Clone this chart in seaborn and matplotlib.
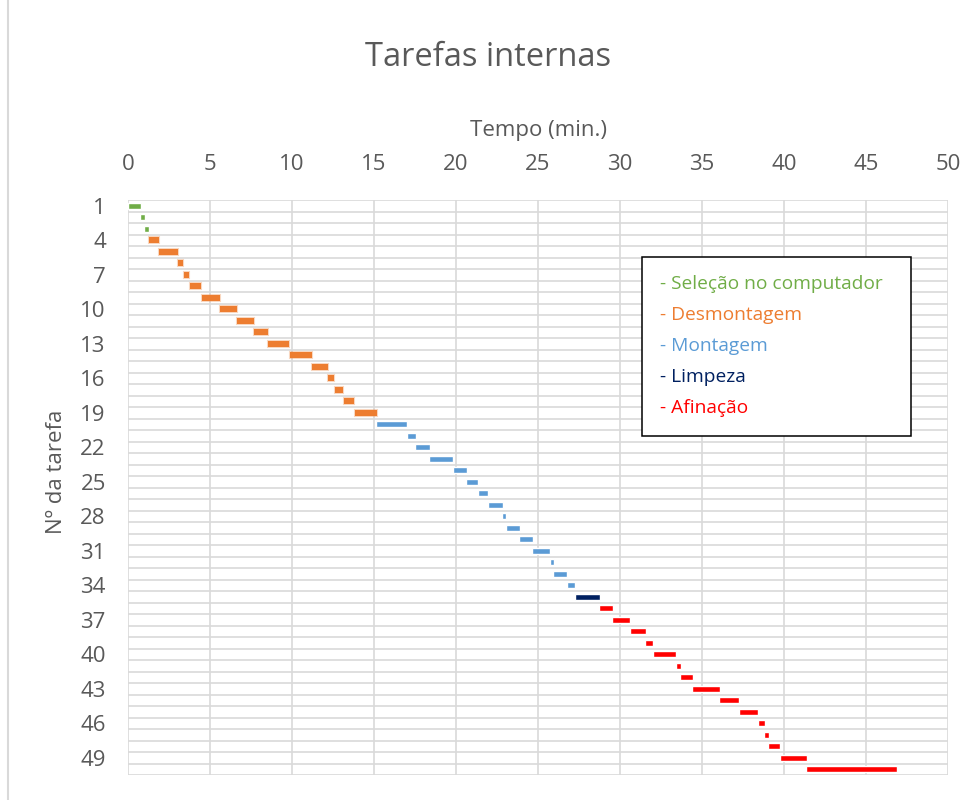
import matplotlib
matplotlib.use("Agg")
import numpy as np
import pandas as pd
import seaborn as sns
from matplotlib import pyplot as plt
from matplotlib.lines import Line2D

# task data (minutes)
tasks = list(range(1, 51))
starts = [0.0, 0.73, 0.97, 1.28, 1.9, 3.04, 3.39, 3.77, 4.5, 5.64,
          6.65, 7.69, 8.52, 9.86, 11.2, 12.19, 12.6, 13.15, 13.82, 15.1,
          17.04, 17.53, 18.38, 19.84, 20.63, 21.36, 21.97, 22.82, 23.07, 23.86,
          24.65, 25.75, 25.93, 26.78, 27.27, 28.73, 29.52, 30.61, 31.53, 32.01,
          33.41, 33.66, 34.39, 36.03, 37.25, 38.4, 38.77, 39.01, 39.74, 41.33]
ends = [0.8, 1.03, 1.28, 1.89, 3.02, 3.37, 3.73, 4.48, 5.62, 6.63,
        7.67, 8.52, 9.84, 11.2, 12.17, 12.58, 13.1, 13.8, 15.16, 17.04,
        17.59, 18.44, 19.84, 20.69, 21.36, 21.97, 22.88, 23.07, 23.92, 24.71,
        25.75, 25.99, 26.78, 27.27, 28.79, 29.58, 30.61, 31.59, 32.01, 33.41,
        33.72, 34.45, 36.09, 37.25, 38.4, 38.83, 39.07, 39.74, 41.39, 46.87]
phases = (["Seleção no computador"] * 3 + ["Desmontagem"] * 16 +
          ["Montagem"] * 15 + ["Limpeza"] * 1 + ["Afinação"] * 15)

phase_names = ["Seleção no computador", "Desmontagem", "Montagem", "Limpeza", "Afinação"]
phase_colors = ["#70AD47", "#ED7D31", "#5B9BD5", "#002060", "#FF0000"]
palette = dict(zip(phase_names, phase_colors))

df = pd.DataFrame({"task": tasks, "start": starts, "end": ends, "phase": phases})
df["duration"] = df["end"] - df["start"]

sns.set_style("white")
plt.rcParams["font.family"] = ["Open Sans", "DejaVu Sans"]
grey = "#595959"
grid = "#d9d9d9"

fig = plt.figure(figsize=(9.76, 8), dpi=100)
ax = fig.add_axes([128 / 976, 25 / 800, 820 / 976, 575 / 800])

for phase in phase_names:
    sub = df[df["phase"] == phase]
    kw = {}
    if phase == "Desmontagem":
        kw = dict(edgecolor=(0.93, 0.49, 0.19, 0.3), linewidth=1.5)
    ax.barh(sub["task"], sub["duration"], left=sub["start"], height=0.48,
            color=palette[phase], zorder=3, **kw)

ax.set_xlim(0, 50)
ax.set_ylim(50.5, 0.5)
ax.set_xticks(np.arange(0, 51, 5))
ax.set_yticks(np.arange(1, 50, 3))
ax.set_yticks(np.arange(0.5, 51, 1), minor=True)
ax.xaxis.tick_top()
ax.xaxis.set_label_position("top")
ax.grid(axis="x", which="major", color=grid, linewidth=1.2, zorder=0)
ax.grid(axis="y", which="minor", color=grid, linewidth=1.2, zorder=0)
ax.grid(axis="y", which="major", visible=False)
ax.tick_params(axis="both", which="both", length=0, labelsize=16, labelcolor=grey)
ax.tick_params(axis="x", pad=18)
ax.tick_params(axis="y", pad=16)
for s in ax.spines.values():
    s.set_visible(False)

ax.set_xlabel("Tempo (min.)", fontsize=16, color=grey)
ax.xaxis.set_label_coords(0.5, 1 + 69 / 575)
ax.xaxis.label.set_va("center")
ax.set_ylabel("Nº da tarefa", fontsize=16, color=grey)
ax.yaxis.set_label_coords(-71 / 820, 0.527)
ax.yaxis.label.set_va("center")

fig.text(0.5, 1 - 57 / 800, "Tarefas internas", fontsize=23.5, color=grey,
         ha="center", va="center")

handles = [Line2D([], [], linestyle="none") for _ in phase_names]
leg = ax.legend(handles, ["- " + p + "  " for p in phase_names], loc="upper left",
                bbox_to_anchor=(514 / 820, 1 - 57 / 575), borderaxespad=0,
                handlelength=0, handletextpad=0, labelcolor=phase_colors,
                fontsize=13.8, frameon=True, fancybox=False, framealpha=1,
                edgecolor="black", borderpad=0.95, labelspacing=0.68)
leg.get_frame().set_linewidth(1.1)

# chart area border (left edge visible in the reference)
fig.add_artist(Line2D([8 / 976, 8 / 976], [0, 1], color=grid, linewidth=1.5))

fig.savefig("out.png", dpi=100)
